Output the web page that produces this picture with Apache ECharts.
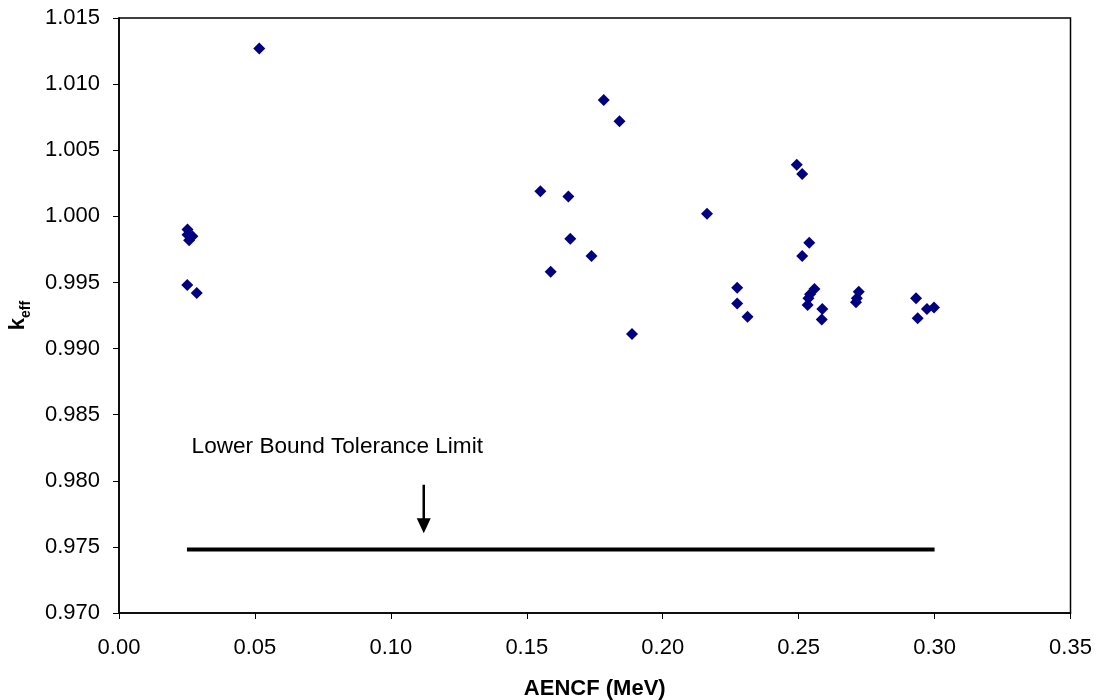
<!DOCTYPE html>
<html>
<head>
<meta charset="utf-8">
<script src="https://cdn.jsdelivr.net/npm/echarts@6/dist/echarts.min.js"></script>
<style>html,body{margin:0;padding:0;background:#fff;}#c{width:1099px;height:700px;}</style>
</head>
<body>
<div id="c"></div>
<script>
// AENCF (MeV) values of benchmark experiments
var aencf = [0.0516, 0.0252, 0.0270, 0.0258, 0.0252, 0.0251, 0.0286, 0.1783, 0.1841, 0.1550, 0.1653, 0.2163, 0.1660, 0.1738, 0.1588, 0.2274, 0.2274, 0.2312, 0.1887, 0.2493, 0.2513, 0.2539, 0.2513, 0.2558, 0.2542, 0.2536, 0.2533, 0.2587, 0.2585, 0.2721, 0.2714, 0.2711, 0.2932, 0.2972, 0.2998, 0.2938];
// keff values
var keff = [1.0127, 0.9990, 0.9985, 0.9982, 0.9986, 0.9948, 0.9942, 1.0088, 1.0072, 1.0019, 1.0015, 1.0002, 0.9983, 0.9970, 0.9958, 0.9946, 0.9934, 0.9924, 0.9911, 1.0039, 1.0032, 0.9980, 0.9970, 0.9945, 0.9941, 0.9938, 0.9933, 0.9930, 0.9922, 0.9943, 0.9938, 0.9935, 0.9938, 0.9930, 0.9931, 0.9923];
// Lower bound tolerance limit line
var lbtlX = [0.025, 0.300];
var lbtlY = [0.9748, 0.9748];
// Annotation arrow (start, end) and text anchor
var arrowX = [0.1121, 0.1121];
var arrowY = [0.9797, 0.9766];
var labelText = 'Lower Bound Tolerance Limit';
var labelPos = [0.0267, 0.9826];

var FONT = 'Liberation Sans, Arial, sans-serif';
var pts = aencf.map(function (x, i) { return [x, keff[i]]; });

var chart = echarts.init(document.getElementById('c'), null, { renderer: 'canvas' });
chart.setOption({
  animation: false,
  backgroundColor: '#fff',
  grid: { left: 119, right: 28.5, top: 18, bottom: 87, containLabel: false, outerBoundsMode: 'none', show: true, borderColor: '#000', borderWidth: 1.5, backgroundColor: 'transparent' },
  xAxis: {
    type: 'value', min: 0, max: 0.35, interval: 0.05,
    name: 'AENCF (MeV)', nameLocation: 'middle', nameGap: 65,
    nameTextStyle: { fontFamily: FONT, fontSize: 22, fontWeight: 'bold', color: '#000' },
    axisLine: { show: true, lineStyle: { color: '#000', width: 1.5 } },
    axisTick: { show: true, inside: false, length: 6, lineStyle: { color: '#000', width: 1 } },
    axisLabel: { fontFamily: FONT, fontSize: 22, color: '#000', margin: 24, formatter: function (v) { return v.toFixed(2); } },
    splitLine: { show: false }
  },
  yAxis: {
    type: 'value', min: 0.970, max: 1.015, interval: 0.005,
    name: '{k|k}{s|eff}', nameLocation: 'middle', nameGap: 90, nameRotate: 90,
    nameTextStyle: {
      fontFamily: FONT, color: '#000',
      rich: {
        k: { fontFamily: FONT, fontSize: 22, fontWeight: 'bold', color: '#000', verticalAlign: 'bottom', lineHeight: 24 },
        s: { fontFamily: FONT, fontSize: 14, fontWeight: 'bold', color: '#000', verticalAlign: 'bottom', lineHeight: 18, padding: [0, 0, -4, 0] }
      }
    },
    axisLine: { show: true, lineStyle: { color: '#000', width: 1.5 } },
    axisTick: { show: true, inside: false, length: 6, lineStyle: { color: '#000', width: 1 } },
    axisLabel: { fontFamily: FONT, fontSize: 22, color: '#000', margin: 19, formatter: function (v) { return v.toFixed(3); } },
    splitLine: { show: false }
  },
  series: [
    {
      type: 'scatter', name: 'keff', data: pts, symbol: 'diamond', symbolSize: 12,
      itemStyle: { color: '#000080', opacity: 1 }, z: 5
    },
    {
      type: 'line', name: 'LBTL', data: lbtlX.map(function (x, i) { return [x, lbtlY[i]]; }),
      symbol: 'none', lineStyle: { color: '#000', width: 4, cap: 'butt' }, z: 3
    },
    {
      type: 'line', name: 'arrow', data: arrowX.map(function (x, i) { return [x, arrowY[i]]; }),
      symbol: 'none', lineStyle: { color: '#000', width: 2.5 }, z: 3,
      markLine: {
        silent: true, symbol: ['none', 'triangle'], symbolSize: [14, 15],
        label: { show: false },
        lineStyle: { color: '#000', width: 0.01, type: 'solid' },
        data: [[{ coord: [arrowX[0], arrowY[0]] }, { coord: [arrowX[1], arrowY[1]] }]]
      }
    },
    {
      type: 'scatter', name: 'label', data: [labelPos], symbolSize: 0, silent: true,
      itemStyle: { opacity: 1 },
      label: { show: true, position: 'right', distance: 0, formatter: labelText, fontFamily: FONT, fontSize: 22.6, color: '#000', opacity: 1 }
    }
  ]
});
</script>
</body>
</html>
